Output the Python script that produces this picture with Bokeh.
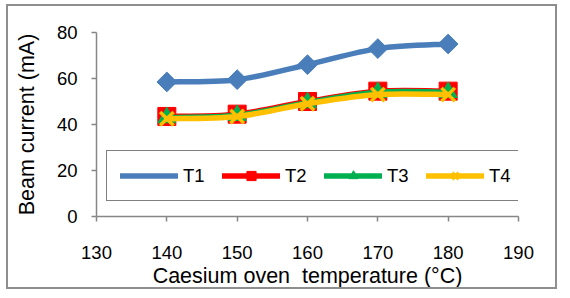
import numpy as np
from bokeh.plotting import figure
from bokeh.models import FixedTicker, Legend, LegendItem, Range1d
from bokeh.embed import file_html
from bokeh.resources import INLINE

# ---- data ----
temps = [140, 150, 160, 170, 180]
T1 = [58.5, 59.5, 66.0, 73.0, 75.0]
T2 = [43.5, 44.5, 50.0, 54.5, 54.5]
T3 = [43.0, 44.0, 49.5, 54.0, 54.0]
T4 = [42.5, 43.5, 49.0, 53.0, 53.0]
series_names = ["T1", "T2", "T3", "T4"]
x_ticks = [130, 140, 150, 160, 170, 180, 190]
y_ticks = [0, 20, 40, 60, 80]

FONT = "Liberation Sans"
colors = ["#4A7EBB", "#FF0000", "#00B050", "#FFC000"]

p = figure(width=562, height=290, output_backend="svg", toolbar_location=None,
           x_range=Range1d(130, 190), y_range=Range1d(0, 80),
           min_border_left=96, min_border_right=44, min_border_top=32, min_border_bottom=73)
p.outline_line_color = None
p.xgrid.visible = False
p.ygrid.visible = False
p.background_fill_color = "white"
p.border_fill_color = "white"

# chart-area border (drawn by CSS around the chart)
p.stylesheets = [
    ":host { position: relative; }"
    ":host::after { content: ''; position: absolute; left: 6px; top: 4px; right: 5px; bottom: 1px;"
    " border: 2px solid #8E8E8E; box-sizing: border-box; pointer-events: none; z-index: 10; }"
]

for ax, ticks in ((p.xaxis[0], x_ticks), (p.yaxis[0], y_ticks)):
    ax.ticker = FixedTicker(ticks=ticks)
    ax.axis_line_color = "#868686"
    ax.axis_line_width = 1.5
    ax.major_tick_line_color = "#868686"
    ax.major_tick_line_width = 1.5
    ax.major_tick_out = 5
    ax.major_tick_in = 0
    ax.minor_tick_line_color = None
    ax.major_label_text_font = FONT
    ax.major_label_text_font_size = "18.5px"
    ax.major_label_text_color = "black"
    ax.axis_label_text_font = FONT
    ax.axis_label_text_font_style = "normal"
    ax.axis_label_text_color = "black"

p.xaxis.axis_label = "Caesium oven \u00a0temperature (°C)"
p.xaxis.axis_label_text_font_size = "21.5px"
p.xaxis.major_label_standoff = 24
p.xaxis.axis_label_standoff = 2
p.yaxis.axis_label = "Beam current (mA)"
p.yaxis.axis_label_text_font_size = "21.5px"
p.yaxis.major_label_standoff = 14
p.yaxis.axis_label_standoff = 15


def bez(xs, ys):
    x = np.array(xs, float)
    y = np.array(ys, float)
    xp = np.concatenate([[x[0]], x, [x[-1]]])
    yp = np.concatenate([[y[0]], y, [y[-1]]])
    n = len(x)
    cx0 = x[:-1] + (xp[2:n + 1] - xp[0:n - 1]) / 6
    cy0 = y[:-1] + (yp[2:n + 1] - yp[0:n - 1]) / 6
    cx1 = x[1:] - (xp[3:n + 2] - xp[1:n]) / 6
    cy1 = y[1:] - (yp[3:n + 2] - yp[1:n]) / 6
    return dict(x0=x[:-1], y0=y[:-1], x1=x[1:], y1=y[1:], cx0=cx0, cy0=cy0, cx1=cx1, cy1=cy1)


items = []
data = [T1, T2, T3, T4]
for i, (name, vals) in enumerate(zip(series_names, data)):
    c = colors[i]
    b = bez(temps, vals)
    lr = p.bezier(line_color=c, line_width=5.5, line_cap="round", **b)
    if i == 0:
        mr = p.scatter(temps, vals, marker="square", angle=np.pi / 4, size=14,
                       fill_color=c, line_color=c, line_width=1)
        # legend-only marker (diamond), no data points
        leg = p.scatter(x=[], y=[], marker="diamond", size=12, fill_color=c, line_color=c)
        rends = [lr, leg]
    elif i == 1:
        mr = p.scatter(temps, vals, marker="square", size=18, fill_color=c, line_color=c)
        rends = [lr, mr]
    elif i == 2:
        mr = p.scatter(temps, vals, marker="triangle", size=18, fill_color=c, line_color=c)
        rends = [lr, mr]
    else:
        mr = p.scatter(temps, vals, marker="x", size=19, line_color=c, line_width=3.5)
        rends = [lr, mr]
    items.append(LegendItem(label=name, renderers=rends))

legend = Legend(items=items, orientation="horizontal", location=(10, 15),
                padding=13, spacing=10, glyph_width=58, glyph_height=23,
                label_width=29, label_standoff=5, margin=0,
                border_line_color="black", border_line_width=1.5,
                background_fill_color="white", background_fill_alpha=1,
                label_text_font=FONT, label_text_font_size="18.5px", label_text_color="black")
p.add_layout(legend, "center")

open("out.html", "w").write(file_html(p, INLINE))
